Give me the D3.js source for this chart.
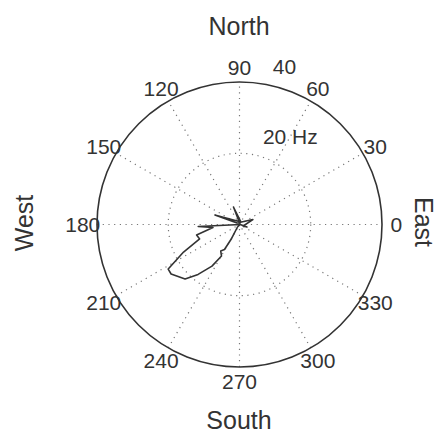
<!DOCTYPE html>
<html>
<head>
<meta charset="utf-8">
<script src="https://cdn.jsdelivr.net/npm/d3@7"></script>
<style>
  body { margin: 0; background: #fff; }
  text { font-family: Arial, "Liberation Sans", sans-serif; fill: #333; }
</style>
</head>
<body>
<svg id="polar_plot" width="441" height="434"></svg>
<script>
// direction (deg, counter-clockwise from east) and frequency (Hz) of the trace
const thetaDeg = [0, 109, 59, 158.8, 149, 20.3, 337, 341.6, 0, 182.8, 186.5, 193.7, 199.9,
    206.2, 212, 215.9, 225, 230.3, 236.5, 240.3, 234.6, 239, 240.5, 231];
const rhoHz = [0.2, 5.2, 0.8, 7.4, 0.8, 4.0, 1.1, 2.2, 0.2, 11.6, 7.5, 12.4, 11.9,
    17.5, 23.6, 23.7, 21.6, 18.2, 14.0, 10.2, 9.1, 8.2, 4.5, 0.9];

const angleTicks = [0, 30, 60, 90, 120, 150, 180, 210, 240, 270, 300, 330];
const ringTicks = [20, 40];
const ringLabels = ["20 Hz", "40"];
const compass = ["East", "North", "West", "South"];

const cx = 239.5, cy = 224.5, R = 142.5;
const rmax = 40;

const svg = d3.select("#polar_plot");
const g = svg.append("g").attr("transform", `translate(${cx},${cy})`);

const r = d3.scaleLinear().domain([0, rmax]).range([0, R]);
const rad = d => d * Math.PI / 180;

// dotted spokes, full diameter
g.selectAll(".spoke")
    .data(angleTicks.filter(a => a < 180))
    .join("line")
    .attr("class", "spoke")
    .attr("x1", a => -r(rmax) * Math.cos(rad(a)))
    .attr("y1", a => r(rmax) * Math.sin(rad(a)))
    .attr("x2", a => r(rmax) * Math.cos(rad(a)))
    .attr("y2", a => -r(rmax) * Math.sin(rad(a)))
    .attr("stroke", "#777")
    .attr("stroke-width", 1.2)
    .attr("stroke-dasharray", "1.2,4.5");

// dotted inner rings
g.selectAll(".ring")
    .data(ringTicks.filter(v => v < rmax))
    .join("circle")
    .attr("class", "ring")
    .attr("r", v => r(v))
    .attr("fill", "none")
    .attr("stroke", "#777")
    .attr("stroke-width", 1.2)
    .attr("stroke-dasharray", "1.2,4.5");

// outer boundary
g.append("circle")
    .attr("r", r(rmax))
    .attr("fill", "none")
    .attr("stroke", "#333")
    .attr("stroke-width", 1.6);

// ring labels, placed along 82 degrees
g.selectAll(".ring-label")
    .data(ringTicks)
    .join("text")
    .attr("class", "ring-label")
    .attr("x", v => r(v + 1) * Math.cos(rad(82)) + 13)
    .attr("y", v => -r(v + 1) * Math.sin(rad(82)) - 6)
    .attr("font-size", 21)
    .text((v, i) => ringLabels[i]);

// angle labels
g.selectAll(".angle-label")
    .data(angleTicks)
    .join("text")
    .attr("class", "angle-label")
    .attr("x", a => r(rmax * 1.1) * Math.cos(rad(a)))
    .attr("y", a => -r(rmax * 1.1) * Math.sin(rad(a)))
    .attr("text-anchor", "middle")
    .attr("dy", "0.36em")
    .attr("font-size", 21)
    .text(a => a);

// trace
const data = thetaDeg.map((t, i) => ({ theta: t, rho: rhoHz[i] }));
const line = d3.lineRadial()
    .angle(d => rad(90 - d.theta))
    .radius(d => r(d.rho))
    .curve(d3.curveLinearClosed);

g.append("path")
    .datum(data)
    .attr("fill", "none")
    .attr("stroke", "#333")
    .attr("stroke-width", 1.6)
    .attr("stroke-linejoin", "round")
    .attr("d", line);

// compass titles
svg.append("text")
    .attr("x", 239).attr("y", 35)
    .attr("text-anchor", "middle")
    .attr("font-size", 25)
    .text(compass[1]);

svg.append("text")
    .attr("x", 239).attr("y", 429)
    .attr("text-anchor", "middle")
    .attr("font-size", 25)
    .text(compass[3]);

svg.append("text")
    .attr("transform", "translate(33,223) rotate(-90)")
    .attr("text-anchor", "middle")
    .attr("font-size", 25)
    .text(compass[2]);

svg.append("text")
    .attr("transform", "translate(415,222) rotate(90)")
    .attr("text-anchor", "middle")
    .attr("font-size", 25)
    .text(compass[0]);
</script>
</body>
</html>
